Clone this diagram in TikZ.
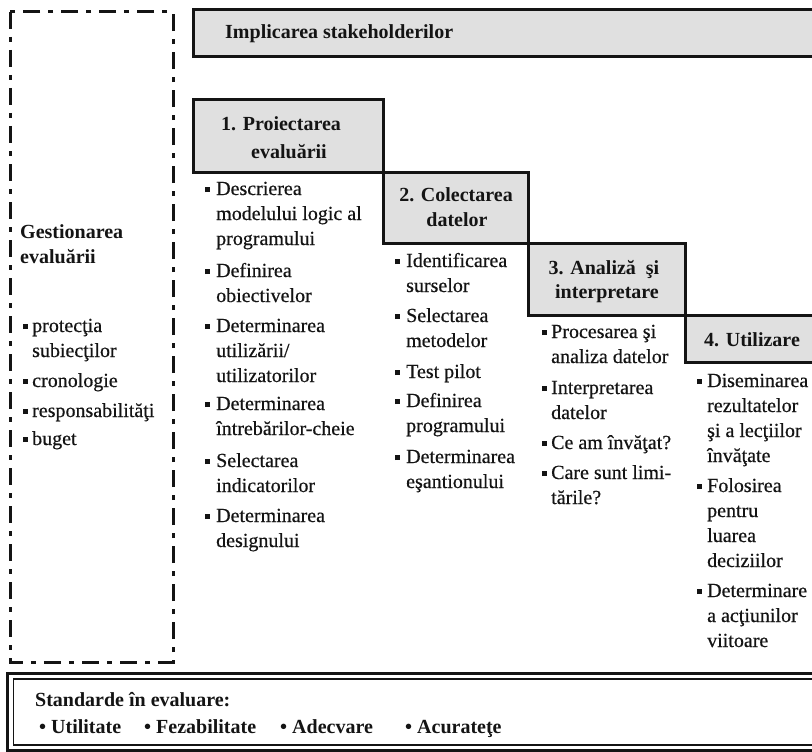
\documentclass[tikz,border=0pt]{standalone}
\usepackage{fontspec}
\setmainfont{Liberation Serif}
\newfontfamily\bodyfont{Liberation Serif}[FakeBold=0.5]
\definecolor{ink}{HTML}{141414}
\definecolor{boxgray}{HTML}{E0E0E0}
\newcommand{\sqb}{\rule[2.8pt]{5pt}{5pt}}
\newcommand{\itmx}[2]{\makebox[#1][l]{\sqb}\parbox[t]{170pt}{#2}}
\begin{document}
\begin{tikzpicture}[x=1pt,y=-1pt,
  body/.style={font=\bodyfont\fontsize{20}{25}\selectfont, text=ink, inner sep=0pt, anchor=base west},
  head/.style={font=\fontsize{20}{25}\selectfont\bfseries, text=ink, inner sep=0pt, anchor=base},
  headl/.style={font=\fontsize{20}{25}\selectfont\bfseries, text=ink, inner sep=0pt, anchor=base west},
  stage/.style={draw=ink, line width=3pt, fill=boxgray},
  frame/.style={draw=ink, line width=3pt, dash pattern=on 17pt off 8pt on 5pt off 8pt},
]
\useasboundingbox (0,0) rectangle (812,752);
\clip (0,0) rectangle (812,752);
\fill[white] (0,0) rectangle (812,752);

% management frame
\draw[frame] (10,12) rectangle (173,662);

% stakeholder bar
\draw[stage] (193,10) rectangle (830,57);
\node[headl] (stake) at (225,39) {Implicarea stakeholderilor};

% stage boxes
\draw[stage] (193,100) rectangle (383,172);
\draw[stage] (383,172) rectangle (528,243);
\draw[stage] (528,243) rectangle (685,315);
\draw[stage] (685,315) rectangle (830,362);

\node[head] (h1a) at (281,131) {1. Proiectarea};
\node[head] (h1b) at (289,158) {evaluării};
\node[head] (h2a) at (456,201) {2. Colectarea};
\node[head] (h2b) at (457,226) {datelor};
\node[head] (h3a) at (604,274) {3. Analiză\hspace{5pt} şi};
\node[head] (h3b) at (607,298) {interpretare};
\node[head] (h4) at (752,346) {4. Utilizare};

% column 1
\node[body] (c1a) at (205,195) {\itmx{11pt}{Descrierea\\modelului logic al\\programului}};
\node[body] (c1b) at (205,277) {\itmx{11pt}{Definirea\\obiectivelor}};
\node[body] (c1c) at (205,332) {\itmx{11pt}{Determinarea\\utilizării/\\utilizatorilor}};
\node[body] (c1d) at (205,410) {\itmx{11pt}{Determinarea\\întrebărilor-cheie}};
\node[body] (c1e) at (205,467) {\itmx{11pt}{Selectarea\\indicatorilor}};
\node[body] (c1f) at (205,522) {\itmx{11pt}{Determinarea\\designului}};

% column 2
\node[body] (c2a) at (395,267) {\itmx{11pt}{Identificarea\\surselor}};
\node[body] (c2b) at (395,322) {\itmx{11pt}{Selectarea\\metodelor}};
\node[body] (c2c) at (395,378) {\itmx{11pt}{Test pilot}};
\node[body] (c2d) at (395,407) {\itmx{11pt}{Definirea\\programului}};
\node[body] (c2e) at (395,463) {\itmx{11pt}{Determinarea\\eşantionului}};

% column 3
\node[body] (c3a) at (542,338) {\itmx{9pt}{Procesarea şi\\analiza datelor}};
\node[body] (c3b) at (542,394) {\itmx{9pt}{Interpretarea\\datelor}};
\node[body] (c3c) at (542,449) {\itmx{9pt}{Ce am învăţat?}};
\node[body] (c3d) at (542,479) {\itmx{9pt}{Care sunt limi-\\tările?}};

% column 4
\node[body] (c4a) at (697,387) {\itmx{10pt}{Diseminarea\\rezultatelor\\şi a lecţiilor\\învăţate}};
\node[body] (c4b) at (697,492) {\itmx{10pt}{Folosirea\\pentru\\luarea\\deciziilor}};
\node[body] (c4c) at (697,597) {\itmx{10pt}{Determinare\\a acţiunilor\\viitoare}};

% management text
\node[headl] (g1) at (20,238) {Gestionarea};
\node[headl] (g2) at (20,263) {evaluării};
\node[body] (ga) at (23,332) {\itmx{9pt}{protecţia\\subiecţilor}};
\node[body] (gb) at (23,387) {\itmx{9pt}{cronologie}};
\node[body] (gc) at (23,417) {\itmx{9pt}{responsabilităţi}};
\node[body] (gd) at (23,445) {\itmx{9pt}{buget}};

% standards box
\draw[ink, line width=3pt] (7,673) rectangle (830,750.5);
\draw[ink, line width=1.2pt] (13.5,679) rectangle (830,745);
\node[headl] (std) at (35,706) {Standarde în evaluare:};
\node[headl] (s1) at (39,733) {\textbullet\hspace{5pt}Utilitate};
\node[headl] (s2) at (144,733) {\textbullet\hspace{5pt}Fezabilitate};
\node[headl] (s3) at (280,733) {\textbullet\hspace{5pt}Adecvare};
\node[headl] (s4) at (405,733) {\textbullet\hspace{5pt}Acurateţe};
\end{tikzpicture}
\end{document}
